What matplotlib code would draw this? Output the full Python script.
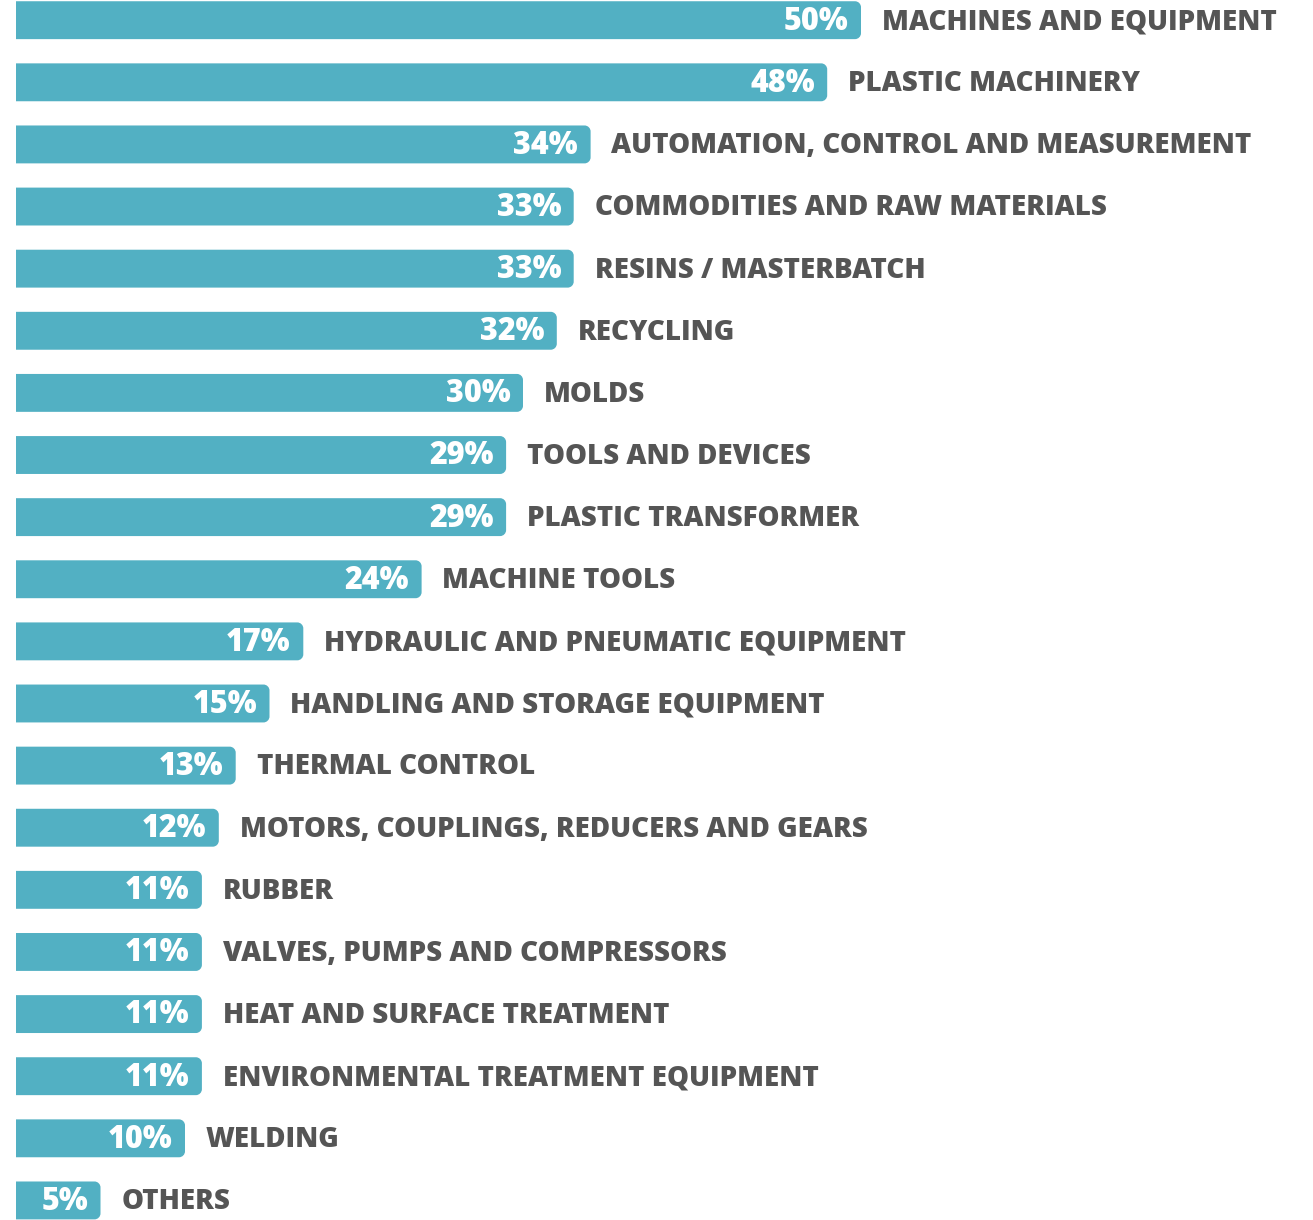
import matplotlib
matplotlib.use("Agg")
import matplotlib.pyplot as plt
from matplotlib.path import Path
from matplotlib.patches import PathPatch
import numpy as np

categories = [
    "MACHINES AND EQUIPMENT", "PLASTIC MACHINERY", "AUTOMATION, CONTROL AND MEASUREMENT",
    "COMMODITIES AND RAW MATERIALS", "RESINS / MASTERBATCH", "RECYCLING", "MOLDS",
    "TOOLS AND DEVICES", "PLASTIC TRANSFORMER", "MACHINE TOOLS",
    "HYDRAULIC AND PNEUMATIC EQUIPMENT", "HANDLING AND STORAGE EQUIPMENT", "THERMAL CONTROL",
    "MOTORS, COUPLINGS, REDUCERS AND GEARS", "RUBBER", "VALVES, PUMPS AND COMPRESSORS",
    "HEAT AND SURFACE TREATMENT", "ENVIRONMENTAL TREATMENT EQUIPMENT", "WELDING", "OTHERS",
]
values = [50, 48, 34, 33, 33, 32, 30, 29, 29, 24, 17, 15, 13, 12, 11, 11, 11, 11, 10, 5]
value_labels = [f"{v}%" for v in values]

BAR_COLOR = "#52b0c3"
TEXT_COLOR = "#555555"
FONT = ["Open Sans", "DejaVu Sans"]

W, H = 1313, 1220
fig = plt.figure(figsize=(W / 100, H / 100), dpi=100)
ax = fig.add_axes([0, 0, 1, 1])

n = len(values)
bar_h = 0.61
ypos = np.arange(n)
ax.set_ylim(n - 1 + bar_h / 2 + 0.01, -bar_h / 2 - 0.02)

px_per_unit_x = 16.9
x0_px = 16
ax.set_xlim(-x0_px / px_per_unit_x, (W - x0_px) / px_per_unit_x)
px_per_unit_y = H / (n - 1 + bar_h + 0.03)

bars = ax.barh(ypos, values, height=bar_h, color=BAR_COLOR, linewidth=0)
r_px = 6
rx = r_px / px_per_unit_x
ry = r_px / px_per_unit_y
k = 0.5523
for b in bars:
    x, y, w, h = b.get_x(), b.get_y(), b.get_width(), b.get_height()
    x1, y1 = x + w, y + h
    verts = [
        (x, y), (x1 - rx, y),
        (x1 - rx + k * rx, y), (x1, y + ry - k * ry), (x1, y + ry),
        (x1, y1 - ry),
        (x1, y1 - ry + k * ry), (x1 - rx + k * rx, y1), (x1 - rx, y1),
        (x, y1), (x, y),
    ]
    codes = [Path.MOVETO, Path.LINETO,
             Path.CURVE4, Path.CURVE4, Path.CURVE4,
             Path.LINETO,
             Path.CURVE4, Path.CURVE4, Path.CURVE4,
             Path.LINETO, Path.CLOSEPOLY]
    b.set_visible(False)
    ax.add_patch(PathPatch(Path(verts, codes), facecolor=BAR_COLOR, edgecolor="none"))

for yi, v, lab, cat in zip(ypos, values, value_labels, categories):
    ax.annotate(lab, (v, yi), xytext=(-9, -1), textcoords="offset points",
                ha="right", va="center", color="white", fontsize=22,
                fontweight="heavy", family=FONT)
    ax.annotate(cat, (v, yi), xytext=(15, -1), textcoords="offset points",
                ha="left", va="center", color=TEXT_COLOR, fontsize=20,
                fontweight="heavy", family=FONT)

ax.axis("off")
fig.savefig("out.png", dpi=100, facecolor="white")
